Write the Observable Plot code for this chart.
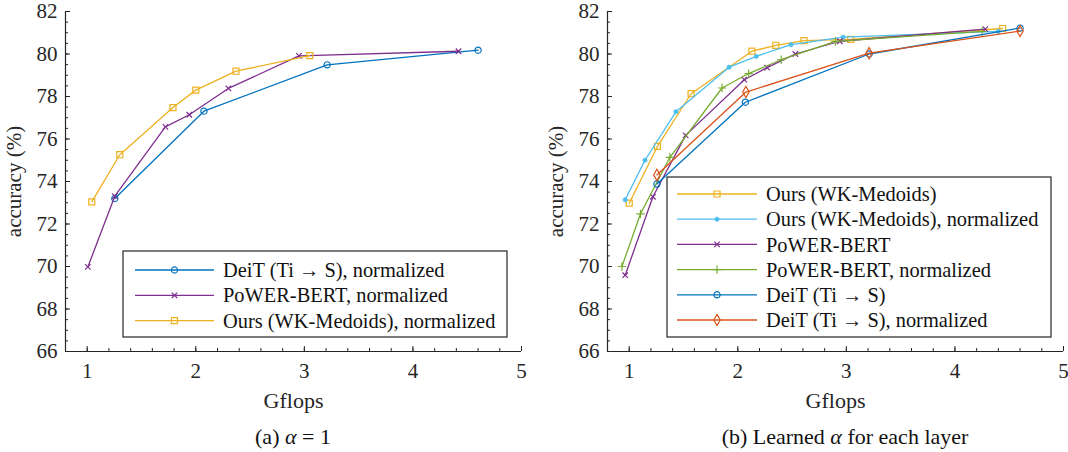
<!DOCTYPE html>
<html>
<head>
<meta charset="utf-8">
<script src="https://cdn.jsdelivr.net/npm/d3@7"></script>
<script src="https://cdn.jsdelivr.net/npm/@observablehq/plot@0.6"></script>
<style>
  body { margin: 0; background: #fff; font-family: "Liberation Serif", "Times New Roman", serif; }
  #wrap { position: relative; width: 1068px; height: 452px; overflow: hidden; }
  #wrap svg, #wrap svg text { font-family: "Liberation Serif", "Times New Roman", serif !important; }
  .panel { position: absolute; top: 0; }
  .caption { position: absolute; top: 424px; font-size: 22px; line-height: 26px; color: #111; white-space: nowrap; transform: translateX(-50%); }
</style>
</head>
<body>
<div id="wrap">
  <div id="pa" class="panel" style="left:0"></div>
  <div id="pb" class="panel" style="left:534px"></div>
  <div class="caption" style="left:293px">(a) <i>α</i> = 1</div>
  <div class="caption" style="left:845px">(b) Learned <i>α</i> for each layer</div>
</div>
<script>
// ---- shared axes ----
const xMajor = [1, 2, 3, 4, 5];
const xMinor = d3.range(0.8, 5.0001, 0.2).map(v => +v.toFixed(1));
const yMajor = [66, 68, 70, 72, 74, 76, 78, 80, 82];
const yMinor = d3.range(66, 82.0001, 0.5);
const xDomain = [0.8, 5];
const yDomain = [66, 82];

// ---- (a) alpha = 1 ----
const deitNormA_x = [1.254, 2.075, 3.21, 4.60];
const deitNormA_y = [73.20, 77.31, 79.49, 80.18];
const powerNormA_x = [1.006, 1.254, 1.72, 1.94, 2.30, 2.95, 4.42];
const powerNormA_y = [69.98, 73.31, 76.57, 77.14, 78.38, 79.91, 80.13];
const oursNormA_x = [1.042, 1.30, 1.79, 2.00, 2.37, 3.05];
const oursNormA_y = [73.04, 75.26, 77.48, 78.30, 79.19, 79.92];

// ---- (b) learned alpha for each layer ----
const oursB_x = [1.00, 1.26, 1.57, 2.13, 2.35, 2.61, 3.04, 4.44];
const oursB_y = [72.98, 75.65, 78.13, 80.13, 80.41, 80.63, 80.69, 81.20];
const oursNormB_x = [0.963, 1.145, 1.43, 1.92, 2.17, 2.49, 2.97, 4.40];
const oursNormB_y = [73.14, 75.00, 77.28, 79.38, 79.89, 80.44, 80.79, 81.06];
const powerB_x = [0.963, 1.218, 1.52, 2.06, 2.27, 2.53, 2.94, 4.28];
const powerB_y = [69.59, 73.28, 76.17, 78.79, 79.36, 80.00, 80.60, 81.17];
const powerNormB_x = [0.933, 1.104, 1.375, 1.855, 2.10, 2.40, 2.90, 4.25];
const powerNormB_y = [70.00, 72.48, 75.14, 78.40, 79.08, 79.73, 80.59, 81.06];
const deitB_x = [1.255, 2.07, 3.21, 4.60];
const deitB_y = [73.88, 77.73, 80.00, 81.22];
const deitNormB_x = [1.255, 2.075, 3.21, 4.60];
const deitNormB_y = [74.31, 78.21, 80.04, 81.08];

const seriesA = [
  {name: "DeiT (Ti \u2192 S), normalized", xs: deitNormA_x, ys: deitNormA_y, color: "#0072BD", symbol: "circle", r: 3.1, filled: false},
  {name: "PoWER-BERT, normalized", xs: powerNormA_x, ys: powerNormA_y, color: "#7E2F8E", symbol: "times", r: 2.6, filled: false},
  {name: "Ours (WK-Medoids), normalized", xs: oursNormA_x, ys: oursNormA_y, color: "#EDB120", symbol: "square", r: 3.4, filled: false}
];
const seriesB = [
  {name: "Ours (WK-Medoids)", xs: oursB_x, ys: oursB_y, color: "#EDB120", symbol: "square", r: 3.4, filled: false},
  {name: "Ours (WK-Medoids), normalized", xs: oursNormB_x, ys: oursNormB_y, color: "#4DBEEE", symbol: "circle", r: 2.2, filled: true},
  {name: "PoWER-BERT", xs: powerB_x, ys: powerB_y, color: "#7E2F8E", symbol: "times", r: 2.6, filled: false},
  {name: "PoWER-BERT, normalized", xs: powerNormB_x, ys: powerNormB_y, color: "#77AC30", symbol: "plus", r: 2.8, filled: false},
  {name: "DeiT (Ti \u2192 S)", xs: deitB_x, ys: deitB_y, color: "#0072BD", symbol: "circle", r: 3.1, filled: false},
  {name: "DeiT (Ti \u2192 S), normalized", xs: deitNormB_x, ys: deitNormB_y, color: "#D95319", symbol: "diamond", r: 3.4, filled: false}
];

const symbolTypes = {
  circle: d3.symbolCircle, times: d3.symbolTimes, square: d3.symbolSquare,
  plus: d3.symbolPlus, diamond: d3.symbolDiamond
};
const ink = "#262626";

function panel(series, m, legend) {
  const width = 534, height = 415;
  const fw = width - m.left - m.right;
  const fh = height - m.top - m.bottom;
  const marks = [
    // axis lines (left and bottom only)
    Plot.ruleY([yDomain[0]], {stroke: ink, strokeWidth: 1.2}),
    Plot.ruleX([xDomain[0]], {stroke: ink, strokeWidth: 1.2}),
    // inward tick marks
    Plot.tickY(yMajor, {y: d => d, stroke: ink, insetRight: fw - 5}),
    Plot.tickY(yMinor, {y: d => d, stroke: ink, insetRight: fw - 3}),
    Plot.tickX(xMajor, {x: d => d, stroke: ink, insetTop: fh - 5}),
    Plot.tickX(xMinor, {x: d => d, stroke: ink, insetTop: fh - 3}),
    Plot.axisY({ticks: yMajor, tickSize: 0, tickPadding: 8, fontSize: 21, label: null, tickFormat: d => d, fill: ink}),
    Plot.axisX({ticks: xMajor, tickSize: 0, tickPadding: 12, fontSize: 21, label: null, tickFormat: d => d, fill: ink}),
    Plot.axisY({ticks: [], label: "accuracy (%)", labelAnchor: "center", labelArrow: "none", labelOffset: 59, fontSize: 21, fill: ink}),
    Plot.axisX({ticks: [], label: "Gflops", labelAnchor: "center", labelArrow: "none", labelOffset: 56, fontSize: 22, fill: ink})
  ];
  for (const s of series) {
    const rows = s.xs.map((x, i) => ({gflops: x, acc: s.ys[i]}));
    marks.push(Plot.line(rows, {x: "gflops", y: "acc", stroke: s.color, strokeWidth: 1.3}));
    marks.push(Plot.dot(rows, {
      x: "gflops", y: "acc", symbol: () => s.symbol, r: s.r,
      fill: s.filled ? s.color : "none", stroke: s.color, strokeWidth: s.filled ? 0.5 : 1.2
    }));
  }
  const svg = Plot.plot({
    width, height,
    marginLeft: m.left, marginRight: m.right, marginTop: m.top, marginBottom: m.bottom,
    x: {domain: xDomain},
    y: {domain: yDomain},
    symbol: {type: "identity"},
    style: {background: "white", overflow: "visible", color: ink},
    marks
  });

  // legend box inside the axes
  const g = d3.select(svg).append("g").attr("text-anchor", "start");
  g.append("rect")
    .attr("x", legend.x).attr("y", legend.y).attr("width", legend.w).attr("height", legend.h)
    .attr("fill", "white").attr("stroke", ink).attr("stroke-width", 1.2);
  series.forEach((s, i) => {
    const y = legend.row0 + i * legend.dy;
    const cx = (legend.x1 + legend.x2) / 2;
    g.append("line").attr("x1", legend.x1).attr("x2", legend.x2).attr("y1", y).attr("y2", y)
      .attr("stroke", s.color).attr("stroke-width", 1.3);
    g.append("path")
      .attr("d", d3.symbol(symbolTypes[s.symbol], Math.PI * s.r * s.r)())
      .attr("transform", `translate(${cx},${y})`)
      .attr("fill", s.filled ? s.color : "none").attr("stroke", s.color)
      .attr("stroke-width", s.filled ? 0.5 : 1.2);
    g.append("text").attr("x", legend.tx).attr("y", y).attr("dy", "0.35em")
      .attr("text-anchor", "start").attr("font-size", 20.4).attr("fill", "#111").text(s.name);
  });
  return svg;
}

document.getElementById("pa").append(panel(seriesA,
  {left: 65, right: 13, top: 11, bottom: 64},
  {x: 123, y: 251, w: 384, h: 86, row0: 270, dy: 25.3, x1: 135, x2: 214, tx: 223}));
document.getElementById("pb").append(panel(seriesB,
  {left: 73, right: 5, top: 11, bottom: 64},
  {x: 133, y: 177, w: 384, h: 160, row0: 194, dy: 25.2, x1: 143, x2: 223, tx: 232}));
</script>
</body>
</html>
